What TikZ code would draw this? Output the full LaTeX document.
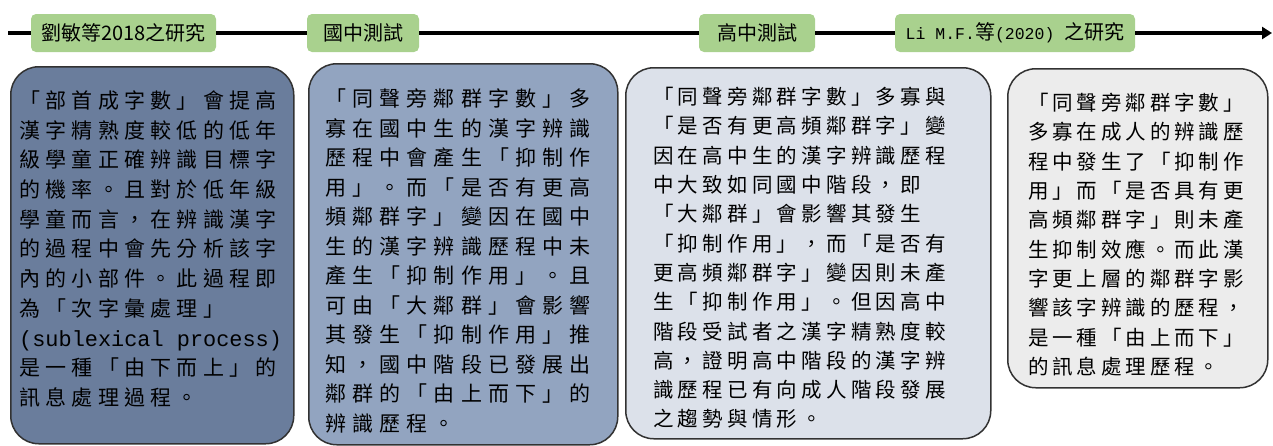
\documentclass[tikz,border=0pt]{standalone}
\usepackage{fontspec}
\setmainfont{Noto Sans CJK TC}
\newfontfamily\monofnt{Liberation Mono}
\usetikzlibrary{arrows.meta}
\definecolor{tagGreen}{RGB}{169,209,142}
\definecolor{edgeGray}{RGB}{50,50,50}
\definecolor{fillA}{RGB}{106,125,156}
\definecolor{fillB}{RGB}{146,164,192}
\definecolor{fillC}{RGB}{220,225,234}
\definecolor{fillD}{RGB}{236,236,236}
\tikzset{
  tag/.style={fill=tagGreen, rounded corners=5pt, inner sep=0pt, minimum height=38pt, font=\fontsize{20}{24}\selectfont},
  panel/.style={draw=edgeGray, line width=1.5pt, rounded corners=28pt, anchor=north west, inner sep=0pt},
  body/.style={anchor=north west, inner sep=0pt, align=left},
  axis/.style={line width=3.5pt, black},
}
\begin{document}
\begin{tikzpicture}[x=1pt,y=-1pt]
\useasboundingbox (0,0) rectangle (1273,445);
% label tags
\node[tag, minimum width=185pt] (l1) at (123.5,33) {劉敏等2018之研究};
\node[tag, minimum width=112pt] (l2) at (363,33) {國中測試};
\node[tag, minimum width=116pt] (l3) at (757,33) {高中測試};
\node[tag, minimum width=240pt] (l4) at (1015,33) {{\monofnt\fontsize{16.5}{24}\selectfont Li M.F.}等{\monofnt\fontsize{16.5}{24}\selectfont (2020) }之研究};
% timeline
\coordinate (s) at (8,33);
\coordinate (e) at (1272,33);
\draw[axis] (s) -- (l1.west);
\draw[axis] (l1.east) -- (l2.west);
\draw[axis] (l2.east) -- (l3.west);
\draw[axis] (l3.east) -- (l4.west);
\draw[axis, -{Triangle[length=10pt,width=12pt]}] (l4.east) -- (e);
% panels
\node[panel, fill=fillA, minimum width=283pt, minimum height=377pt] (p1) at (10,66) {};
\node[panel, fill=fillB, minimum width=309pt, minimum height=381pt] (p2) at (308,63) {};
\node[panel, fill=fillC, minimum width=365pt, minimum height=371pt] (p3) at (625,67) {};
\node[panel, fill=fillD, minimum width=260pt, minimum height=319pt] (p4) at (1007,68) {};
% texts
\node[body, font={\fontsize{21}{29.7}\selectfont\addfontfeatures{LetterSpace=25.2}}] (t1) at (19,90.5) {%
「部首成字數」會提高\\
漢字精熟度較低的低年\\
級學童正確辨識目標字\\
的機率。且對於低年級\\
學童而言，在辨識漢字\\
的過程中會先分析該字\\
內的小部件。此過程即\\
為「次字彙處理」\\
{\monofnt\fontsize{21.9}{29.7}\selectfont (sublexical process)}\\
是一種「由下而上」的\\
訊息處理過程。};
\node[body, font={\fontsize{21}{29.5}\selectfont\addfontfeatures{LetterSpace=29.5}}] (t2) at (325,88.5) {%
「同聲旁鄰群字數」多\\
寡在國中生的漢字辨識\\
歷程中會產生「抑制作\\
用」。而「是否有更高\\
頻鄰群字」變因在國中\\
生的漢字辨識歷程中未\\
產生「抑制作用」。且\\
可由「大鄰群」會影響\\
其發生「抑制作用」推\\
知，國中階段已發展出\\
鄰群的「由上而下」的\\
辨識歷程。};
\node[body, font={\fontsize{20.5}{29.3}\selectfont\addfontfeatures{LetterSpace=20.7}}] (t3) at (653,87) {%
「同聲旁鄰群字數」多寡與\\
「是否有更高頻鄰群字」變\\
因在高中生的漢字辨識歷程\\
中大致如同國中階段，即\\
「大鄰群」會影響其發生\\
「抑制作用」，而「是否有\\
更高頻鄰群字」變因則未產\\
生「抑制作用」。但因高中\\
階段受試者之漢字精熟度較\\
高，證明高中階段的漢字辨\\
識歷程已有向成人階段發展\\
之趨勢與情形。};
\node[body, font={\fontsize{20.5}{29.3}\selectfont\addfontfeatures{LetterSpace=19}}] (t4) at (1028,93) {%
「同聲旁鄰群字數」\\
多寡在成人的辨識歷\\
程中發生了「抑制作\\
用」而「是否具有更\\
高頻鄰群字」則未產\\
生抑制效應。而此漢\\
字更上層的鄰群字影\\
響該字辨識的歷程，\\
是一種「由上而下」\\
的訊息處理歷程。};
\end{tikzpicture}
\end{document}
